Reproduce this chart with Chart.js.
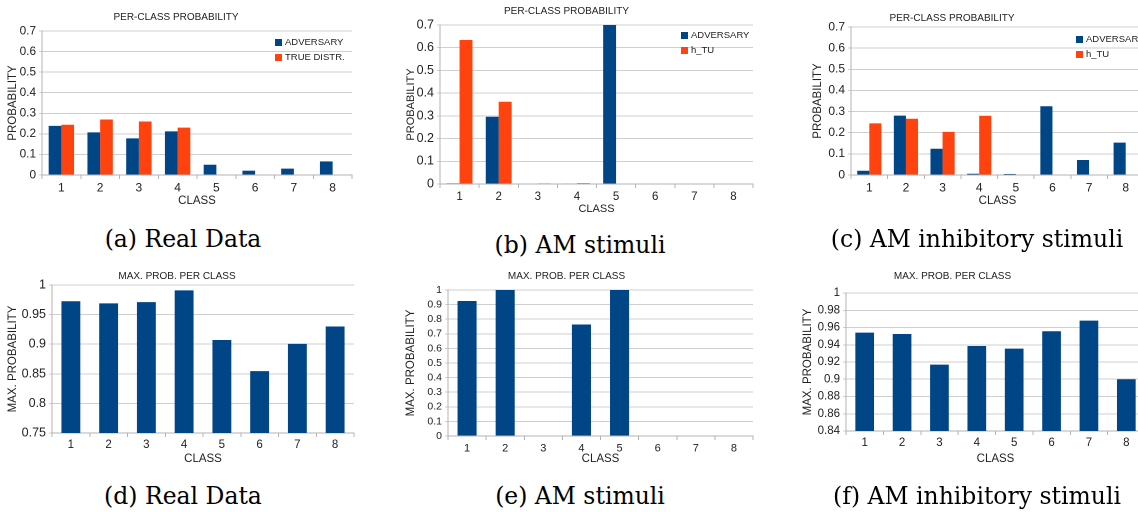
<!DOCTYPE html>
<html>
<head>
<meta charset="utf-8">
<script src="https://cdn.jsdelivr.net/npm/chart.js@4.4.1/dist/chart.umd.min.js"></script>
<style>
  html, body { margin:0; padding:0; background:#fff; }
  body { width:1138px; height:512px; position:relative; overflow:hidden; }
  canvas { position:absolute; }
  .cap { position:absolute; font-family:"DejaVu Serif","Liberation Serif",serif; font-size:23.5px; color:#000; white-space:nowrap; transform:translateX(-50%); }
  .leg { position:absolute; font-family:"Liberation Sans",Arial,sans-serif; font-size:9.5px; color:#222; line-height:15px; white-space:nowrap; }
  .leg span.sw { display:inline-block; width:7px; height:7px; margin-right:3px; vertical-align:-0.5px; }
</style>
</head>
<body>
<script>
// ---------------- DATA ----------------
const classes = ['1','2','3','4','5','6','7','8'];

// (a) Real Data
const advA  = [0.239, 0.207, 0.178, 0.212, 0.050, 0.021, 0.031, 0.066];
const trueA = [0.244, 0.270, 0.260, 0.230, 0, 0, 0, 0];
// (b) AM stimuli
const advB  = [0.003, 0.296, 0, 0.002, 0.70, 0, 0, 0];
const htuB  = [0.634, 0.362, 0.001, 0.004, 0, 0, 0, 0];
// (c) AM inhibitory stimuli
const advC  = [0.020, 0.281, 0.124, 0.006, 0.005, 0.325, 0.071, 0.153];
const htuC  = [0.244, 0.266, 0.204, 0.280, 0, 0, 0, 0];
// (d) Real Data, max prob
const maxD  = [0.9725, 0.969, 0.971, 0.991, 0.907, 0.8545, 0.9006, 0.930];
// (e) AM stimuli, max prob
const maxE  = [0.925, 1.0, 0, 0.764, 1.0, 0, 0, 0];
// (f) AM inhibitory stimuli, max prob
const maxF  = [0.954, 0.9525, 0.917, 0.9386, 0.9355, 0.9556, 0.968, 0.900];

// tick labels
const ticksProb   = [0, 0.1, 0.2, 0.3, 0.4, 0.5, 0.6, 0.7];
const ticksMaxD   = [0.75, 0.8, 0.85, 0.9, 0.95, 1];
const ticksMaxE   = [0, 0.1, 0.2, 0.3, 0.4, 0.5, 0.6, 0.7, 0.8, 0.9, 1];
const ticksMaxF   = [0.84, 0.86, 0.88, 0.9, 0.92, 0.94, 0.96, 0.98, 1];

const titleTop = 'PER-CLASS PROBABILITY';
const titleBot = 'MAX. PROB. PER CLASS';
const labelAdv = 'ADVERSARY';
const labelTrue = 'TRUE DISTR.';
const labelHtu = 'h_TU';
const xTitle = 'CLASS';
const yTitleTop = 'PROBABILITY';
const yTitleBot = 'MAX. PROBABILITY';
const captions = ['(a) Real Data','(b) AM stimuli','(c) AM inhibitory stimuli','(d) Real Data','(e) AM stimuli','(f) AM inhibitory stimuli'];

// ---------------- STYLE ----------------
const BLUE = '#004586', ORANGE = '#ff420e';
const FONT = '"Liberation Sans", Arial, sans-serif';
const TXT = '#222222';
const GRID = '#cfcfcf';
const AXIS = '#b3b3b3';

function makeChart(cfg) {
  const c = document.createElement('canvas');
  c.style.left = cfg.cx + 'px'; c.style.top = cfg.cy + 'px';
  c.style.width = cfg.cw + 'px'; c.style.height = cfg.ch + 'px';
  document.body.appendChild(c);
  const titleSize = 10, tLH = titleSize * 1.2;
  const yTitleLH = cfg.axisTitleSize * 1.2;
  const xTitleLH = cfg.axisTitleSize * 1.2;
  const yw = cfg.L - cfg.cx;
  const xh = cfg.cy + cfg.ch - cfg.B;
  const padRight = cfg.cx + cfg.cw - cfg.R;
  new Chart(c, {
    type: 'bar',
    data: {
      labels: classes,
      datasets: cfg.datasets.map(d => ({
        label: d.label, data: d.data, backgroundColor: d.color, borderWidth: 0,
        categoryPercentage: cfg.catPct, barPercentage: 1.0
      }))
    },
    options: {
      responsive: false, maintainAspectRatio: false, animation: false,
      devicePixelRatio: 2,
      layout: { padding: { left: 0, top: 0, right: padRight, bottom: 0 } },
      plugins: {
        legend: { display: false },
        tooltip: { enabled: false },
        title: {
          display: true, text: cfg.title, color: TXT,
          font: { family: FONT, size: titleSize, weight: 'normal' },
          padding: { top: cfg.titleY - cfg.cy - tLH / 2, bottom: cfg.T - cfg.titleY - tLH / 2 }
        }
      },
      scales: {
        x: {
          type: 'category',
          offset: true,
          grid: { display: true, drawOnChartArea: false, drawTicks: true, tickLength: 4, color: AXIS, offset: true },
          border: { display: true, color: AXIS },
          ticks: { color: TXT, font: { family: FONT, size: cfg.xTickSize }, padding: cfg.xTickPad, maxRotation: 0, autoSkip: false },
          title: { display: true, text: xTitle, color: TXT, font: { family: FONT, size: cfg.axisTitleSize },
                   padding: { top: 0, bottom: (cfg.cy + cfg.ch - cfg.xTitleY) - xTitleLH / 2 } },
          afterFit: s => { s.height = xh; }
        },
        y: {
          type: 'linear', min: cfg.yTicks[0], max: cfg.yTicks[cfg.yTicks.length - 1],
          afterBuildTicks: s => { s.ticks = cfg.yTicks.map(v => ({ value: v })); },
          grid: { color: GRID, drawTicks: true, tickLength: 3 },
          border: { display: true, color: AXIS },
          ticks: { color: TXT, font: { family: FONT, size: cfg.yTickSize }, padding: 3, autoSkip: false,
                   callback: v => String(+v.toFixed(4)) },
          title: { display: true, text: cfg.yTitle, color: TXT, font: { family: FONT, size: cfg.axisTitleSize },
                   padding: { top: (cfg.yTitleX - cfg.cx) - yTitleLH / 2, bottom: 0 } },
          afterFit: s => { s.width = yw; }
        }
      }
    }
  });
  if (cfg.legend) {
    const lg = document.createElement('div');
    lg.className = 'leg';
    lg.style.left = cfg.legend.x + 'px'; lg.style.top = cfg.legend.y + 'px';
    cfg.datasets.forEach(d => {
      const row = document.createElement('div');
      const sw = document.createElement('span'); sw.className = 'sw'; sw.style.background = d.color;
      row.appendChild(sw); row.appendChild(document.createTextNode(d.label));
      lg.appendChild(row);
    });
    document.body.appendChild(lg);
  }
}

// (a)
makeChart({ cx:0, cy:0, cw:367, ch:215, L:42, T:31, R:352, B:175, titleY:17, xTitleY:201, yTitleX:13,
  title:titleTop, yTitle:yTitleTop, yTicks:ticksProb, catPct:0.655, axisTitleSize:11.5, xTickSize:12, yTickSize:11.8, xTickPad:2,
  datasets:[{label:labelAdv, data:advA, color:BLUE},{label:labelTrue, data:trueA, color:ORANGE}],
  legend:{x:275, y:34} });
// (b)
makeChart({ cx:380, cy:0, cw:400, ch:225, L:440, T:25, R:753, B:184, titleY:11, xTitleY:209, yTitleX:411,
  title:titleTop, yTitle:yTitleTop, yTicks:ticksProb, catPct:0.66, axisTitleSize:11, xTickSize:11.5, yTickSize:12.5, xTickPad:2,
  datasets:[{label:labelAdv, data:advB, color:BLUE},{label:labelHtu, data:htuB, color:ORANGE}],
  legend:{x:681, y:27} });
// (c)
makeChart({ cx:760, cy:0, cw:434, ch:215, L:851, T:27, R:1144, B:175, titleY:18, xTitleY:201, yTitleX:818,
  title:titleTop, yTitle:yTitleTop, yTicks:ticksProb, catPct:0.66, axisTitleSize:11.5, xTickSize:12, yTickSize:12, xTickPad:2,
  datasets:[{label:labelAdv, data:advC, color:BLUE},{label:labelHtu, data:htuC, color:ORANGE}],
  legend:{x:1076, y:31} });
// (d)
makeChart({ cx:0, cy:262, cw:366, ch:210, L:52, T:285, R:354, B:433, titleY:276, xTitleY:459, yTitleX:13,
  title:titleBot, yTitle:yTitleBot, yTicks:ticksMaxD, catPct:0.5, axisTitleSize:11.5, xTickSize:11.5, yTickSize:12.5, xTickPad:1,
  datasets:[{label:labelAdv, data:maxD, color:BLUE}] });
// (e)
makeChart({ cx:380, cy:262, cw:401, ch:210, L:448, T:290, R:753, B:436, titleY:276, xTitleY:459, yTitleX:411,
  title:titleBot, yTitle:yTitleBot, yTicks:ticksMaxE, catPct:0.5, axisTitleSize:11.5, xTickSize:11, yTickSize:10.5, xTickPad:2,
  datasets:[{label:labelAdv, data:maxE, color:BLUE}] });
// (f)
makeChart({ cx:760, cy:262, cw:435, ch:210, L:846, T:293, R:1145, B:431, titleY:276, xTitleY:459, yTitleX:808,
  title:titleBot, yTitle:yTitleBot, yTicks:ticksMaxF, catPct:0.5, axisTitleSize:11.5, xTickSize:11.5, yTickSize:11.5, xTickPad:1,
  datasets:[{label:labelAdv, data:maxF, color:BLUE}] });

// captions
const capPos = [[183,240],[580,246],[977,240],[183,497],[580,497],[977,497]];
captions.forEach((t, i) => {
  const d = document.createElement('div');
  d.className = 'cap'; d.textContent = t;
  d.style.left = capPos[i][0] + 'px';
  d.style.top = (capPos[i][1] - 15) + 'px';
  document.body.appendChild(d);
});
</script>
</body>
</html>
